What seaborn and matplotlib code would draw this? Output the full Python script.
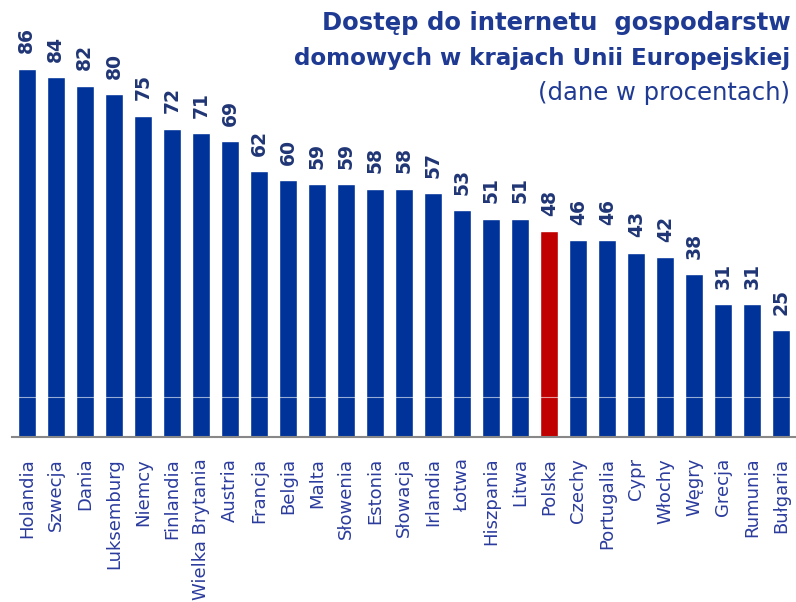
import numpy as np
import pandas as pd
import matplotlib
matplotlib.use('Agg')
import matplotlib.pyplot as plt
import seaborn as sns

countries = ['Holandia', 'Szwecja', 'Dania', 'Luksemburg', 'Niemcy', 'Finlandia',
             'Wielka Brytania', 'Austria', 'Francja', 'Belgia', 'Malta', 'Słowenia',
             'Estonia', 'Słowacja', 'Irlandia', 'Łotwa', 'Hiszpania', 'Litwa', 'Polska',
             'Czechy', 'Portugalia', 'Cypr', 'Włochy', 'Węgry', 'Grecja', 'Rumunia', 'Bułgaria']
values = [86, 84, 82, 80, 75, 72, 71, 69, 62, 60, 59, 59, 58, 58, 57, 53, 51, 51, 48,
          46, 46, 43, 42, 38, 31, 31, 25]
highlight = 'Polska'

blue = '#003399'
red = '#C00000'
label_blue = '#2B3C9E'

df = pd.DataFrame({'kraj': countries, 'wartosc': values})
palette = {c: (red if c == highlight else blue) for c in countries}

sns.set_style('white')
plt.rcParams['font.family'] = ['DejaVu Sans']

fig = plt.figure(figsize=(7.96, 6.02), dpi=100)
ax = fig.add_axes([12 / 796, (602 - 437) / 602, (796 - 12) / 796, 437 / 602])

sns.barplot(data=df, x='kraj', y='wartosc', hue='kraj', palette=palette,
            dodge=False, legend=False, width=0.62, saturation=1, ax=ax)

ax.set_xlim(-0.51, 26.38)
ax.set_ylim(0, 102)
# faint white line crossing the bars
ax.axhline(9.4, color='white', lw=0.8, alpha=0.6, zorder=5)

for i, v in enumerate(values):
    ax.annotate(str(v), (i, v), xytext=(0, 11), textcoords='offset points',
                rotation=90, ha='center', va='bottom', fontsize=13.5,
                fontweight='bold', color='#1F3575')

for s in ['top', 'right', 'left']:
    ax.spines[s].set_visible(False)
ax.spines['bottom'].set_color('#888888')
ax.spines['bottom'].set_linewidth(1.5)

ax.set_yticks([])
ax.set_xlabel('')
ax.set_ylabel('')
ax.set_xticks(range(len(countries)))
ax.set_xticklabels(countries, rotation=90, fontsize=13, color=label_blue)
ax.tick_params(axis='x', which='major', length=0, pad=15)
ax.set_xticks(np.arange(len(countries) + 1) - 0.5, minor=True)
ax.tick_params(axis='x', which='minor', length=5, width=1.5, color='#888888')

fig.text(0.993, 0.961, 'Dostęp do internetu  gospodarstw', ha='right', va='center',
         fontsize=17.5, fontweight='bold', color='#1F3A93')
fig.text(0.993, 0.903, 'domowych w krajach Unii Europejskiej', ha='right', va='center',
         fontsize=16.6, fontweight='bold', color='#1F3A93')
fig.text(0.993, 0.845, '(dane w procentach)', ha='right', va='center',
         fontsize=17.5, color='#1F3A93')

fig.savefig('out.png', dpi=100)
